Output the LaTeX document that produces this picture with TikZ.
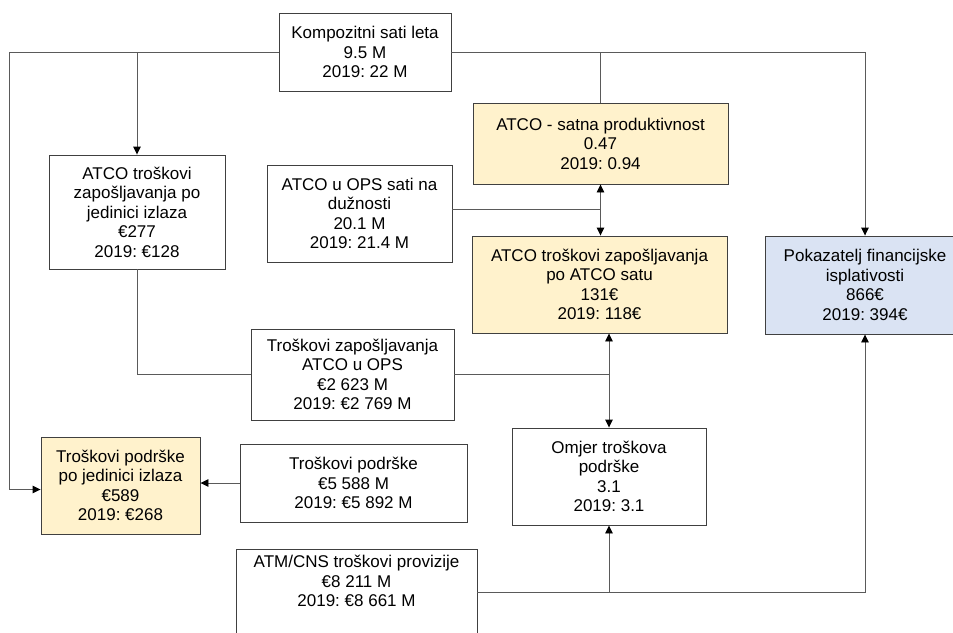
\documentclass[tikz,border=0pt]{standalone}
\usepackage{fontspec}
\setmainfont{Liberation Sans}
\usetikzlibrary{arrows.meta}
\definecolor{zuta}{HTML}{FFF2CC}
\definecolor{plava}{HTML}{DAE3F3}
\definecolor{rub}{HTML}{404040}
\definecolor{linija}{HTML}{5A5A5A}
\frenchspacing

\begin{document}
\begin{tikzpicture}[x=1pt,y=-1pt,
  kutija/.style={draw=rub,line width=0.9pt,fill=white,align=center,inner sep=2pt,
    font=\fontsize{17}{19.5}\selectfont},
  zutakut/.style={kutija,fill=zuta},
  plavakut/.style={kutija,fill=plava},
  veza/.style={draw=linija,line width=0.9pt},
  strel/.style={veza,-{Triangle[length=8pt,width=7.5pt,color=black]}},
  dvostr/.style={veza,{Triangle[length=8pt,width=7.5pt,color=black]}-{Triangle[length=8pt,width=7.5pt,color=black]}}]
\useasboundingbox (0,0) rectangle (953,632);

% kutije
\node[kutija,minimum width=172,minimum height=78] (komp) at (365,52) {Kompozitni sati leta\\9.5 M\\2019: 22 M};
\node[kutija,minimum width=176,minimum height=114] (atcoJed) at (137,212) {ATCO troškovi\\zapošljavanja po\\jedinici izlaza\\€277\\2019: €128};
\node[kutija,minimum width=185,minimum height=97] (opsSati) at (359.5,213.5) {ATCO u OPS sati na\\dužnosti\\20.1 M\\2019: 21.4 M};
\node[zutakut,minimum width=255,minimum height=81] (prod) at (600.5,143.5) {ATCO - satna produktivnost\\0.47\\2019: 0.94};
\node[zutakut,minimum width=255,minimum height=97] (trosSat) at (599.5,284.5) {ATCO troškovi zapošljavanja\\po ATCO satu\\131€\\2019: 118€};
\node[plavakut,minimum width=200,minimum height=98] (pokaz) at (865,285) {Pokazatelj financijske\\isplativosti\\866€\\2019: 394€};
\node[kutija,minimum width=203,minimum height=91] (trosOps) at (352.5,374.5) {Troškovi zapošljavanja\\ATCO u OPS\\€2 623 M\\2019: €2 769 M};
\node[zutakut,minimum width=159,minimum height=97] (podrJed) at (120.5,485.5) {Troškovi podrške\\po jedinici izlaza\\€589\\2019: €268};
\node[kutija,minimum width=227,minimum height=78] (podr) at (353.5,483) {Troškovi podrške\\€5 588 M\\2019: €5 892 M};
\node[kutija,minimum width=194,minimum height=97] (omjer) at (609,476.5) {Omjer troškova\\podrške\\3.1\\2019: 3.1};
\node[kutija,minimum width=241,anchor=north,inner ysep=6pt,text depth=60pt] (atm) at (356.5,549) {ATM/CNS troškovi provizije\\€8 211 M\\2019: €8 661 M};

% veze
\coordinate (lijevo) at (9,52);
\coordinate (atmDesno) at ([yshift=-43pt]atm.north east);
\draw[strel] (komp.west) -- (lijevo) |- ([yshift=-4pt]podrJed.west);
\draw[strel] (atcoJed.north |- komp.west) -- (atcoJed.north);
\draw[strel] (komp.east) -| (pokaz.north);
\draw[veza] (prod.north |- komp.east) -- (prod.north);
\draw[dvostr] (prod.south) -- (prod.south |- trosSat.north);
\draw[veza] ([yshift=4pt]opsSati.east) -- ([yshift=4pt]opsSati.east -| prod.south);
\draw[veza] (atcoJed.south) |- (trosOps.west);
\draw[dvostr] (omjer.north |- trosSat.south) -- (omjer.north);
\draw[veza] (trosOps.east) -- (trosOps.east -| omjer.north);
\draw[strel] (podr.west) -- (podr.west -| podrJed.east);
\draw[strel] (atmDesno) -| (pokaz.south);
\draw[strel] (omjer.south |- atmDesno) -- (omjer.south);
\end{tikzpicture}
\end{document}
